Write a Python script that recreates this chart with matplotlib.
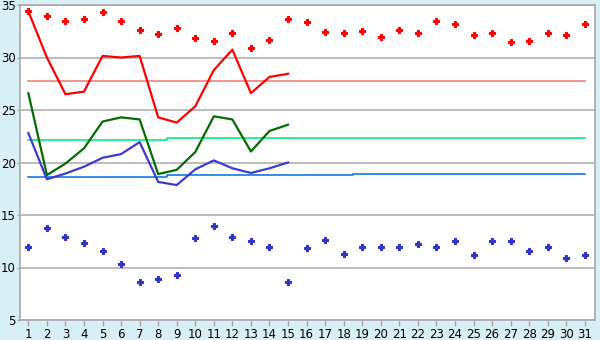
import matplotlib
matplotlib.use('Agg')
import matplotlib.pyplot as plt
import numpy as np

# Data
days = list(range(1, 32))
red_dots = [34.4, 33.95, 33.5, 33.7, 34.3, 33.5, 32.6, 32.2, 32.8, 31.9,
            31.6, 32.3, 30.9, 31.7, 33.7, 33.35, 32.4, 32.3, 32.5, 32.0,
            32.6, 32.3, 33.5, 33.2, 32.1, 32.3, 31.5, 31.6, 32.3, 32.1, 33.2]
blue_dots = [12.0, 13.75, 12.95, 12.3, 11.55, 10.3, 8.6, 8.95, 9.25, 12.8,
             14.0, 12.95, 12.5, 12.0, 8.6, 11.85, 12.6, 11.25, 12.0, 12.0,
             12.0, 12.2, 12.0, 12.5, 11.15, 12.5, 12.5, 11.55, 12.0, 10.95, 11.15]
line_days = list(range(1, 16))
red_line = [34.4, 30.0, 26.5, 26.75, 30.15, 30.0, 30.15, 24.3, 23.8, 25.35,
            28.8, 30.75, 26.6, 28.15, 28.45]
green_line = [26.6, 18.8, 19.9, 21.35, 23.9, 24.3, 24.1, 18.9, 19.3, 21.0,
              24.4, 24.1, 21.05, 23.0, 23.6]
blue_line = [22.8, 18.4, 18.95, 19.6, 20.45, 20.8, 21.95, 18.15, 17.85, 19.35,
             20.2, 19.45, 19.0, 19.45, 20.0]
pink_level = [27.75] * 31
green_level = [22.1] * 8 + [22.37] * 18 + [22.3] * 5
blue_level = [18.65] * 8 + [18.78] * 10 + [18.87] * 13

fig = plt.figure(figsize=(6, 3.4), dpi=100, facecolor='#D9EFF6')
ax = fig.add_axes([20 / 600, 1 - 320 / 340, 575 / 600, 315 / 340])
ax.set_facecolor('white')

ax.plot(days, pink_level, color='#F08080', lw=1.2, drawstyle='steps-mid', zorder=2)
ax.plot(days, green_level, color='#00F07A', lw=1.2, drawstyle='steps-mid', zorder=2)
ax.plot(days, blue_level, color='#1478E0', lw=1.2, drawstyle='steps-mid', zorder=2)

ax.plot(line_days, red_line, color='#FF0000', lw=1.6, zorder=3)
ax.plot(line_days, green_line, color='#006E00', lw=1.6, zorder=3)
ax.plot(line_days, blue_line, color='#3C3CCC', lw=1.6, zorder=3)

# small chunky plus markers
ax.plot(days, red_dots, ls='none', marker='P', ms=4.5, color='#FF0000',
        markeredgewidth=0.8, zorder=4)
ax.plot(days, blue_dots, ls='none', marker='P', ms=4.5, color='#3333CC',
        markeredgewidth=0.8, zorder=4)

ax.set_xlim(0.55, 31.55)
ax.set_ylim(5, 35)
ax.set_xticks(days)
ax.set_yticks(range(5, 36, 5))
ax.yaxis.grid(True, color='#B0B0B0', lw=1.2)
ax.set_axisbelow(True)
for s in ax.spines.values():
    s.set_color('#A8A8A8')
    s.set_linewidth(1.2)
ax.tick_params(axis='both', labelsize=8.5, colors='#A8A8A8', labelcolor='black',
               length=4, width=1, pad=1.5)
ax.tick_params(axis='y', length=2, pad=1)

fig.savefig('out.png', dpi=100, facecolor=fig.get_facecolor())
